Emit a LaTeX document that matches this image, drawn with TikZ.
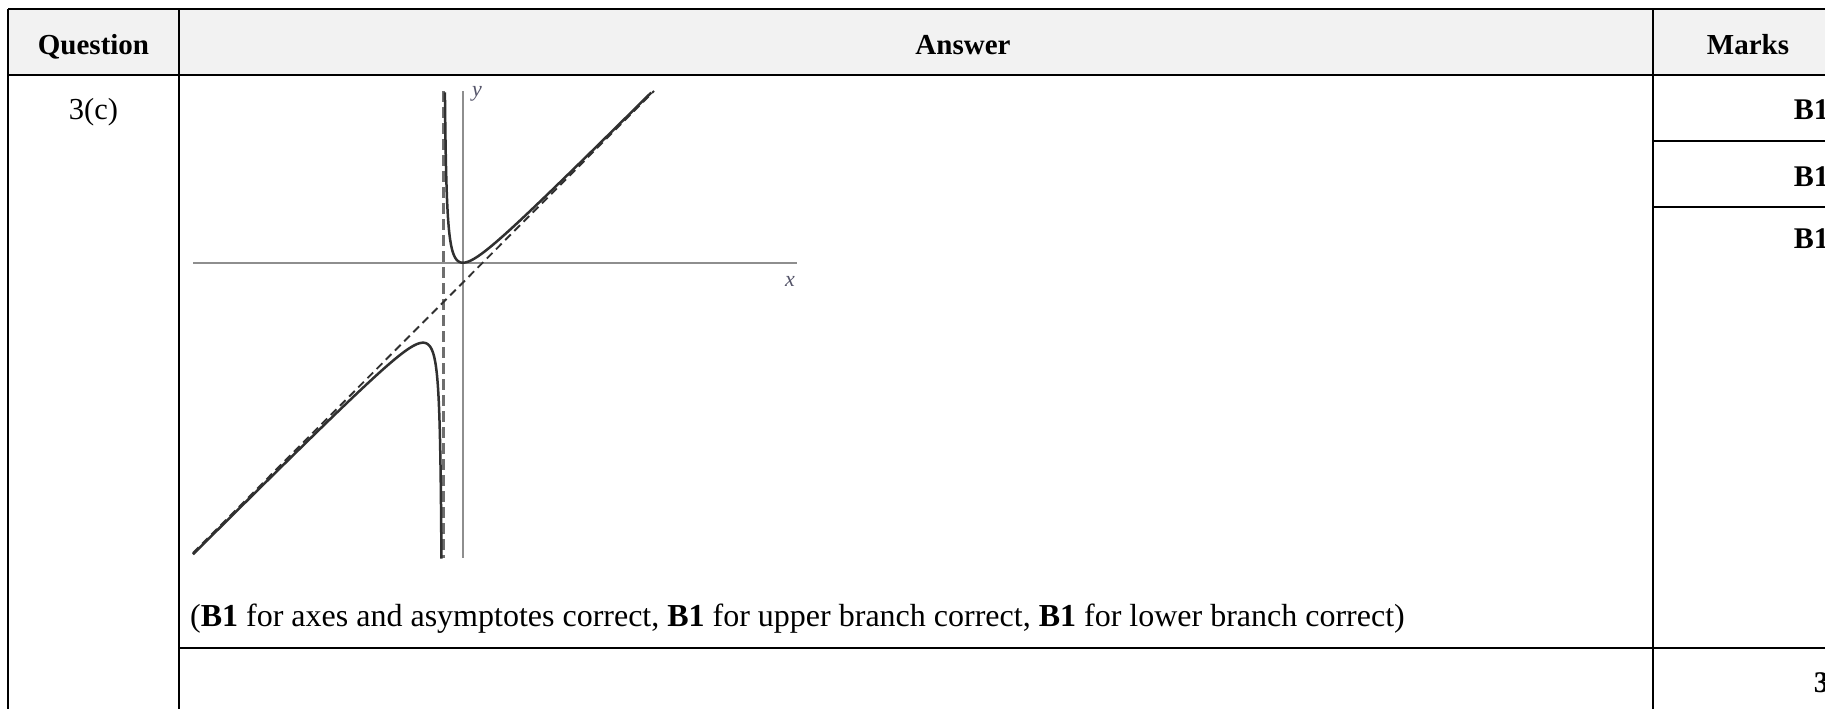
\documentclass[tikz,border=0pt]{standalone}
\usepackage{fontspec}
\setmainfont{Liberation Serif}
\definecolor{hdr}{HTML}{F2F2F2}
\definecolor{axisgray}{HTML}{8E8E8E}
\definecolor{asygray}{HTML}{6E6E6E}
\definecolor{curvec}{HTML}{303030}
\definecolor{lblc}{HTML}{55556A}
\tikzset{
  rule/.style={draw=black, line width=2pt},
  txt/.style={font=\fontsize{30.5}{34}\selectfont, inner sep=0pt, anchor=base},
  hbold/.style={font=\fontsize{29}{33}\selectfont\bfseries, inner sep=0pt, anchor=base},
  mbold/.style={font=\fontsize{30}{34}\selectfont\bfseries, inner sep=0pt, anchor=base east},
  notetxt/.style={font=\fontsize{32}{36}\selectfont, inner sep=0pt, anchor=base west},
  axisline/.style={draw=axisgray, line width=2.4pt},
  vasy/.style={draw=asygray, line width=3pt, dash pattern=on 11pt off 5pt},
  oasy/.style={draw=curvec, line width=1.9pt, dash pattern=on 8pt off 5pt},
  curve/.style={draw=curvec, line width=2.5pt, line join=round},
  axlabel/.style={font=\fontsize{22}{26}\selectfont\itshape, text=lblc, inner sep=0pt}
}
\begin{document}
\begin{tikzpicture}[x=1pt, y=-1pt]
\clip (0,0) rectangle (1825,709);
\fill[white] (0,0) rectangle (1825,709);
% header background
\fill[hdr] (8,9) rectangle (1825,74.5);
% table rules
\draw[rule] (8,9) -- (1825,9);
\draw[rule] (8,74.5) -- (1825,74.5);
\draw[rule] (8,9) -- (8,709);
\draw[rule] (179,9) -- (179,709);
\draw[rule] (1653,9) -- (1653,709);
\draw[rule] (1653,141) -- (1825,141);
\draw[rule] (1653,207) -- (1825,207);
\draw[rule] (179,648) -- (1825,648);
% header texts
\node[hbold] (hq) at (93.5,55) {Question};
\node[hbold] (ha) at (963,55) {Answer};
\node[hbold] (hm) at (1748,55) {Marks};
% question id
\node[txt] (q) at (93.5,119) {3(c)};
% marks
\node[mbold] (m1) at (1829,119) {B1};
\node[mbold] (m2) at (1829,186) {B1};
\node[mbold] (m3) at (1829,248) {B1};
\node[mbold] (mt) at (1829,692) {3};
% graph: origin at (463,262.7), unit 20px, f(x)=x^2/(x+1)
\coordinate (xl) at (193,262.7);
\coordinate (xr) at (797,262.7);
\coordinate (yt) at (463,91);
\coordinate (yb) at (463,558);
\coordinate (vt) at (443,91);
\coordinate (vb) at (443,558);
\coordinate (ot) at (654,91);
\coordinate (ob) at (193,553);
\draw[axisline] (xl) -- (xr);
\draw[axisline] (yt) -- (yb);
\draw[vasy] (vt) -- (vb);
\draw[oasy] (ob) -- (ot);
\draw[curve] plot[domain=-2.343:2.347, samples=300, smooth]
  ({463+20*(-1+exp(\x))}, {262.7-20*((exp(\x)-1)^2/exp(\x))});
\draw[curve] plot[domain=-2.543:2.526, samples=300, smooth]
  ({463+20*(-1-exp(\x))}, {262.7+20*((1+exp(\x))^2/exp(\x))});
\node[axlabel] (ylab) at (477,94) {y};
\node[axlabel] (xlab) at (790,281) {x};
% commentary
\node[notetxt] (note) at (190,626) {(\textbf{B1} for axes and asymptotes correct, \textbf{B1} for upper branch correct, \textbf{B1} for lower branch correct)};
\end{tikzpicture}
\end{document}
